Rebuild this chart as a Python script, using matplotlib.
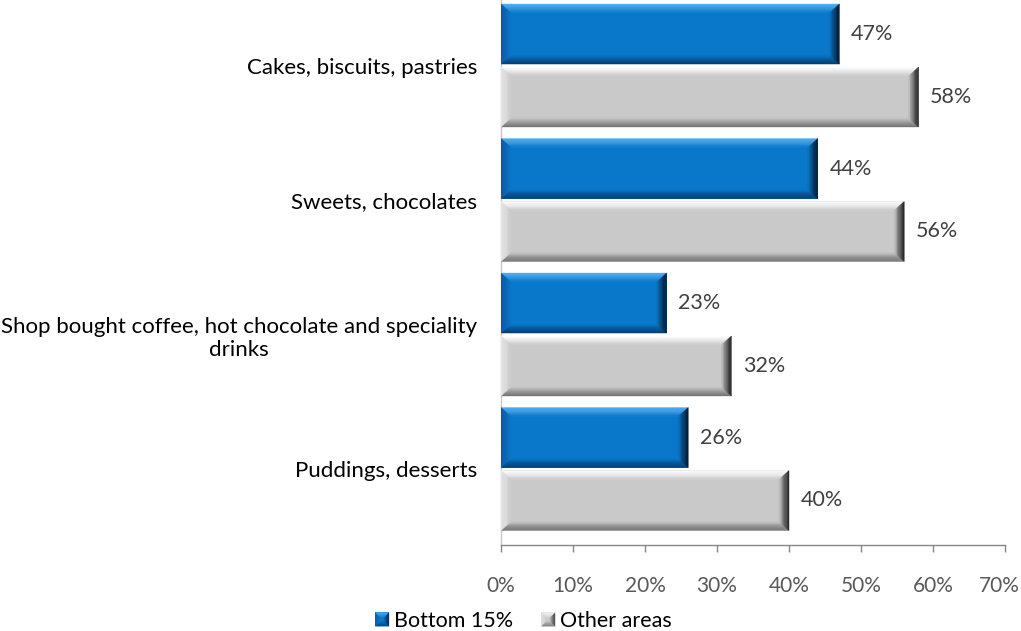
import matplotlib
matplotlib.use("Agg")
import matplotlib.pyplot as plt
import numpy as np
from matplotlib.colors import to_rgb
from matplotlib.patches import Polygon, Rectangle
from matplotlib.legend_handler import HandlerBase
from matplotlib.transforms import ScaledTranslation

categories = [
    "Cakes, biscuits, pastries",
    "Sweets, chocolates",
    "Shop bought coffee, hot chocolate and speciality\ndrinks",
    "Puddings, desserts",
]
bottom15 = [47, 44, 23, 26]
other_areas = [58, 56, 32, 40]
series_names = ["Bottom 15%", "Other areas"]
xticks = [0, 10, 20, 30, 40, 50, 60, 70]

plt.rcParams["font.family"] = ["Lato", "DejaVu Sans"]
FS = 15.5

# face colour plus the outer colour of each bevel side
BLUE = dict(face="#0A78CA", top="#55B0F2", bottom="#033F76", left="#0A5BA4", right="#041A34")
GREY = dict(face="#C9C9C9", top="#FFFFFF", bottom="#737373", left="#E6E6E6", right="#262626")

fig = plt.figure(figsize=(10.21, 6.31), dpi=100)
ax = fig.add_axes([501 / 1021, 86 / 631, 504 / 1021, 545 / 631])

bar_h = 0.446
offset = 0.234
ys = list(range(len(categories)))

# bevel size in data units (about 9 px)
bx = 10 / 72 * 10
by = 9 / 134.5
NB = 8


def mix(c1, c2, t):
    a, b = np.array(to_rgb(c1)), np.array(to_rgb(c2))
    return tuple(a + (b - a) * t)


def bevel_sides(x0, y0, x1, y1, dx, dy, shades, flip_y):
    """Gradient trapezoids on the four sides of a rectangle."""
    out = []
    yt, yb = (y0, y1) if flip_y else (y1, y0)
    sgn = 1 if flip_y else -1
    for k in range(NB):
        t0, t1 = k / NB, (k + 1) / NB
        ax0, ax1 = dx * t0, dx * t1
        ay0, ay1 = dy * t0, dy * t1
        top = [(x0 + ax0, yt + sgn * ay0), (x1 - ax0, yt + sgn * ay0),
               (x1 - ax1, yt + sgn * ay1), (x0 + ax1, yt + sgn * ay1)]
        bot = [(x0 + ax0, yb - sgn * ay0), (x1 - ax0, yb - sgn * ay0),
               (x1 - ax1, yb - sgn * ay1), (x0 + ax1, yb - sgn * ay1)]
        left = [(x0 + ax0, yt + sgn * ay0), (x0 + ax1, yt + sgn * ay1),
                (x0 + ax1, yb - sgn * ay1), (x0 + ax0, yb - sgn * ay0)]
        right = [(x1 - ax0, yt + sgn * ay0), (x1 - ax1, yt + sgn * ay1),
                 (x1 - ax1, yb - sgn * ay1), (x1 - ax0, yb - sgn * ay0)]
        tm = ((t0 + t1) / 2) ** 1.4
        for pts, key in ((top, "top"), (bot, "bottom"), (left, "left"), (right, "right")):
            out.append((pts, mix(shades[key], shades["face"], tm)))
    return out


def bevel_bars(ys_, vals, shades):
    bars = ax.barh(ys_, vals, height=bar_h, color=shades["face"], edgecolor="none", zorder=2)
    for b in bars:
        x0, y0 = b.get_x(), b.get_y()
        x1, y1 = x0 + b.get_width(), y0 + b.get_height()
        for pts, c in bevel_sides(x0, y0, x1, y1, bx, by, shades, True):
            ax.add_patch(Polygon(pts, closed=True, facecolor=c, edgecolor=c,
                                 linewidth=0.3, zorder=3))
    return bars


b1 = bevel_bars([y - offset for y in ys], bottom15, BLUE)
b2 = bevel_bars([y + offset for y in ys], other_areas, GREY)

for bars, vals in ((b1, bottom15), (b2, other_areas)):
    for b, v in zip(bars, vals):
        ax.text(v + 1.6, b.get_y() + b.get_height() / 2, f"{v}%", va="center", ha="left",
                fontsize=FS, color="#404040")

ax.set_xlim(0, 70)
ax.set_ylim(3.565, -0.487)
ax.set_xticks(xticks)
ax.set_xticklabels([f"{t}%" for t in xticks], fontsize=15, color="#595959")
ax.set_yticks(ys)
ax.set_yticklabels(categories, fontsize=16, color="#000000", multialignment="center")
ax.tick_params(axis="y", length=0, pad=17)
ax.tick_params(axis="x", length=5, width=1, color="#868686", pad=17.5)

# nudge the last tick label so it stays inside the canvas
last = ax.xaxis.get_major_ticks()[-1].label1
last.set_transform(last.get_transform() + ScaledTranslation(-4 / 72, 0, fig.dpi_scale_trans))

for s in ("top", "right"):
    ax.spines[s].set_visible(False)
ax.spines["left"].set_color("#C8C8C8")
ax.spines["bottom"].set_color("#868686")
for s in ("left", "bottom"):
    ax.spines[s].set_linewidth(1)


class BevelSquare(HandlerBase):
    def __init__(self, shades):
        super().__init__()
        self.shades = shades

    def create_artists(self, legend, orig_handle, xdescent, ydescent, width, height, fontsize, trans):
        s = min(width, height)
        x0 = -xdescent + width - s
        y0 = -ydescent + (height - s) / 2
        d = s * 0.4
        arts = [Rectangle((x0, y0), s, s, facecolor=self.shades["face"], edgecolor="none",
                          transform=trans)]
        for pts, c in bevel_sides(x0, y0, x0 + s, y0 + s, d, d, self.shades, False):
            arts.append(Polygon(pts, closed=True, facecolor=c, edgecolor="none", transform=trans))
        return arts


h1 = Rectangle((0, 0), 1, 1)
h2 = Rectangle((0, 0), 1, 1)
fig.legend([h1, h2], series_names, loc="center", bbox_to_anchor=(523.5 / 1021, 1 - 621 / 631),
           ncol=2, frameon=False, fontsize=FS, handlelength=0.65, handleheight=0.65,
           handletextpad=0.23, columnspacing=1.3,
           handler_map={h1: BevelSquare(BLUE), h2: BevelSquare(GREY)})

fig.savefig("out.png", dpi=100)
